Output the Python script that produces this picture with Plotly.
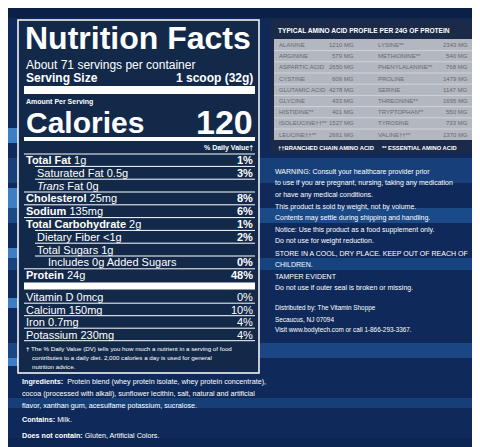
import plotly.graph_objects as go

# ---- data ----
nutrients = ["Total Fat", "Saturated Fat", "Trans Fat", "Cholesterol", "Sodium",
             "Total Carbohydrate", "Dietary Fiber", "Total Sugars", "Includes 0g Added Sugars", "Protein"]
amounts = ["1g", "0.5g", "0g", "25mg", "135mg", "2g", "<1g", "1g", "", "24g"]
daily_values = ["1%", "3%", "", "8%", "6%", "1%", "2%", "", "0%", "48%"]
bold_name = [True, False, False, True, True, True, False, False, False, True]
indent = [0, 1, 1, 0, 0, 0, 1, 1, 2, 0]

vitamins = ["Vitamin D 0mcg", "Calcium 150mg", "Iron 0.7mg", "Potassium 230mg"]
vitamin_dv = ["0%", "10%", "4%", "4%"]

amino_left = ["ALANINE", "ARGININE", "ASPARTIC ACID", "CYSTINE", "GLUTAMIC ACID",
              "GLYCINE", "HISTIDINE**", "ISOLEUCINE††**", "LEUCINE††**"]
amino_left_mg = [1210, 579, 2650, 609, 4278, 433, 401, 1527, 2661]
amino_right = ["LYSINE**", "METHIONINE**", "PHENYLALANINE**", "PROLINE", "SERINE",
               "THREONINE**", "TRYPTOPHAN**", "TYROSINE", "VALINE††**"]
amino_right_mg = [2343, 540, 768, 1479, 1147, 1695, 550, 733, 1370]

right_text = [
    ["WARNING: Consult your healthcare provider prior",
     "to use if you are pregnant, nursing, taking any medication",
     "or have any medical conditions."],
    ["This product is sold by weight, not by volume.",
     "Contents may settle during shipping and handling."],
    ["Notice: Use this product as a food supplement only.",
     "Do not use for weight reduction."],
    ["STORE IN A COOL, DRY PLACE. KEEP OUT OF REACH OF",
     "CHILDREN."],
    ["TAMPER EVIDENT",
     "Do not use if outer seal is broken or missing."],
]
distrib = ["Distributed by: The Vitamin Shoppe", "Secaucus, NJ 07094",
           "Visit www.bodytech.com or call 1-866-293-3367."]

# ---- figure ----
W, H = 480, 447
fig = go.Figure()
shapes, ann = [], []
SANS = "Liberation Sans, Arial"
NARROW = "Liberation Sans, Arial"

def rect(x0, y0, x1, y1, fill, line=None, lw=0):
    shapes.append(dict(type="rect", x0=x0, y0=y0, x1=x1, y1=y1, fillcolor=fill,
                       line=dict(color=line or fill, width=lw), layer="below"))

def hline(x0, x1, y, w, c="white"):
    shapes.append(dict(type="line", x0=x0, x1=x1, y0=y, y1=y, line=dict(color=c, width=w)))

def txt(x, y, s, size, anchor="left", color="white", font=SANS):
    ann.append(dict(x=x, y=y, text=s, showarrow=False, xanchor=anchor, yanchor="middle",
                    font=dict(size=size, color=color, family=font)))

# background with streaks
rect(0, 0, W, H, "#0f2a5a")
for y0, y1, c in [(0, 10, "#0c1f45"), (150, 175, "#17407a"), (200, 215, "#1a4a88"),
                  (250, 262, "#16427e"), (335, 350, "#1a4784"), (390, 400, "#163f78"),
                  (430, 447, "#0d2552")]:
    rect(0, y0, W, y1, c)
for y0, y1 in [(120, 135), (180, 200), (240, 250), (290, 300), (350, 358)]:
    rect(0, y0, 10, y1, "#3d7fc4")
rect(0, 440, W, 447, "#6f8fb8")

# nutrition panel
rect(10, 12, 251, 365, "#13294a", "white", 1.5)
L, R = 16, 247
txt(L - 1, 30, "<b>Nutrition Facts</b>", 32)
txt(L, 57, "About 71 servings per container", 12)
txt(L, 70, "<b>Serving Size</b>", 12)
txt(R, 70, "<b>1 scoop (32g)</b>", 12, "right")
rect(L, 78, R, 86, "white")
txt(L, 94, "<b>Amount Per Serving</b>", 7)
txt(L, 114, "<b>Calories</b>", 30)
txt(R, 114, "<b>120</b>", 34, "right")
rect(L, 129, R, 133, "white")
txt(R, 140, "<b>% Daily Value†</b>", 7, "right")
hline(L, R, 146, 1)
y = 152
step = 12.8
for i, n in enumerate(nutrients):
    x = L + [0, 11, 22][indent[i]]
    if n.startswith("Trans"):
        s = "<i>Trans</i> Fat " + amounts[i]
    elif bold_name[i]:
        s = f"<b>{n}</b> {amounts[i]}"
    else:
        s = f"{n} {amounts[i]}".strip()
    txt(x, y, s, 11)
    if daily_values[i]:
        txt(R, y, f"<b>{daily_values[i]}</b>", 11, "right")
    if i < len(nutrients) - 1:
        hline(L if bold_name[i + 1] else L + 11, R, y + step / 2, 1)
    y += step
rect(L, y - step / 2 + 1, R, y - step / 2 + 8, "white")
y += 9
for i, v in enumerate(vitamins):
    txt(L, y, v, 11)
    txt(R, y, vitamin_dv[i], 11, "right")
    hline(L, R, y + 6.2, 1)
    y += 12.5
txt(L, 340, "<b>†</b> The % Daily Value (DV) tells you how much a nutrient in a serving of food", 6.2)
txt(L + 6, 349, "contributes to a daily diet. 2,000 calories a day is used for general", 6.2)
txt(L + 6, 358, "nutrition advice.", 6.2)

txt(12, 373, "<b>Ingredients:</b>  Protein blend (whey protein isolate, whey protein concentrate),", 7.2)
txt(12, 385, "cocoa (processed with alkali), sunflower lecithin, salt, natural and artificial", 7.2)
txt(12, 397, "flavor, xanthan gum, acesulfame potassium, sucralose.", 7.2)
txt(12, 411, "<b>Contains:</b> Milk.", 7.2)
txt(12, 427, "<b>Does not contain:</b> Gluten, Artificial Colors.", 7.2)

# amino acid table
rect(262, 12, 468, 145, "#1b2a48")
txt(268, 22, "<b>TYPICAL AMINO ACID PROFILE PER 24G OF PROTEIN</b>", 6.6, font=NARROW)
rect(266, 31, 465, 132, "#b3b7bf")
ry = 37
for i in range(len(amino_left)):
    txt(269, ry, amino_left[i], 6, color="#666970", font=NARROW)
    txt(348, ry, f"{amino_left_mg[i]} MG", 6, "right", color="#666970", font=NARROW)
    txt(368, ry, amino_right[i], 6, color="#666970", font=NARROW)
    txt(462, ry, f"{amino_right_mg[i]} MG", 6, "right", color="#666970", font=NARROW)
    if i < len(amino_left) - 1:
        hline(266, 465, ry + 5.6, 0.8, "#d8dadf")
    ry += 11.2
txt(268, 140, "<b>††BRANCHED CHAIN AMINO ACID     ** ESSENTIAL AMINO ACID</b>", 5.8, font=NARROW)

# right text
ty = 164
for block in right_text:
    for line in block:
        txt(265, ty, line, 7, font=NARROW)
        ty += 11.3
    ty += 0.8
ty = 300
for line in distrib:
    txt(265, ty, line, 6.4, font=NARROW)
    ty += 11

fig.update_layout(width=W, height=H, margin=dict(l=0, r=0, t=0, b=0),
                  paper_bgcolor="#0f2a5a", plot_bgcolor="#0f2a5a",
                  xaxis=dict(range=[0, W], visible=False, fixedrange=True),
                  yaxis=dict(range=[H, 0], visible=False, fixedrange=True),
                  shapes=shapes, annotations=ann, showlegend=False)
fig.write_html("out.html", config={"displayModeBar": False})
